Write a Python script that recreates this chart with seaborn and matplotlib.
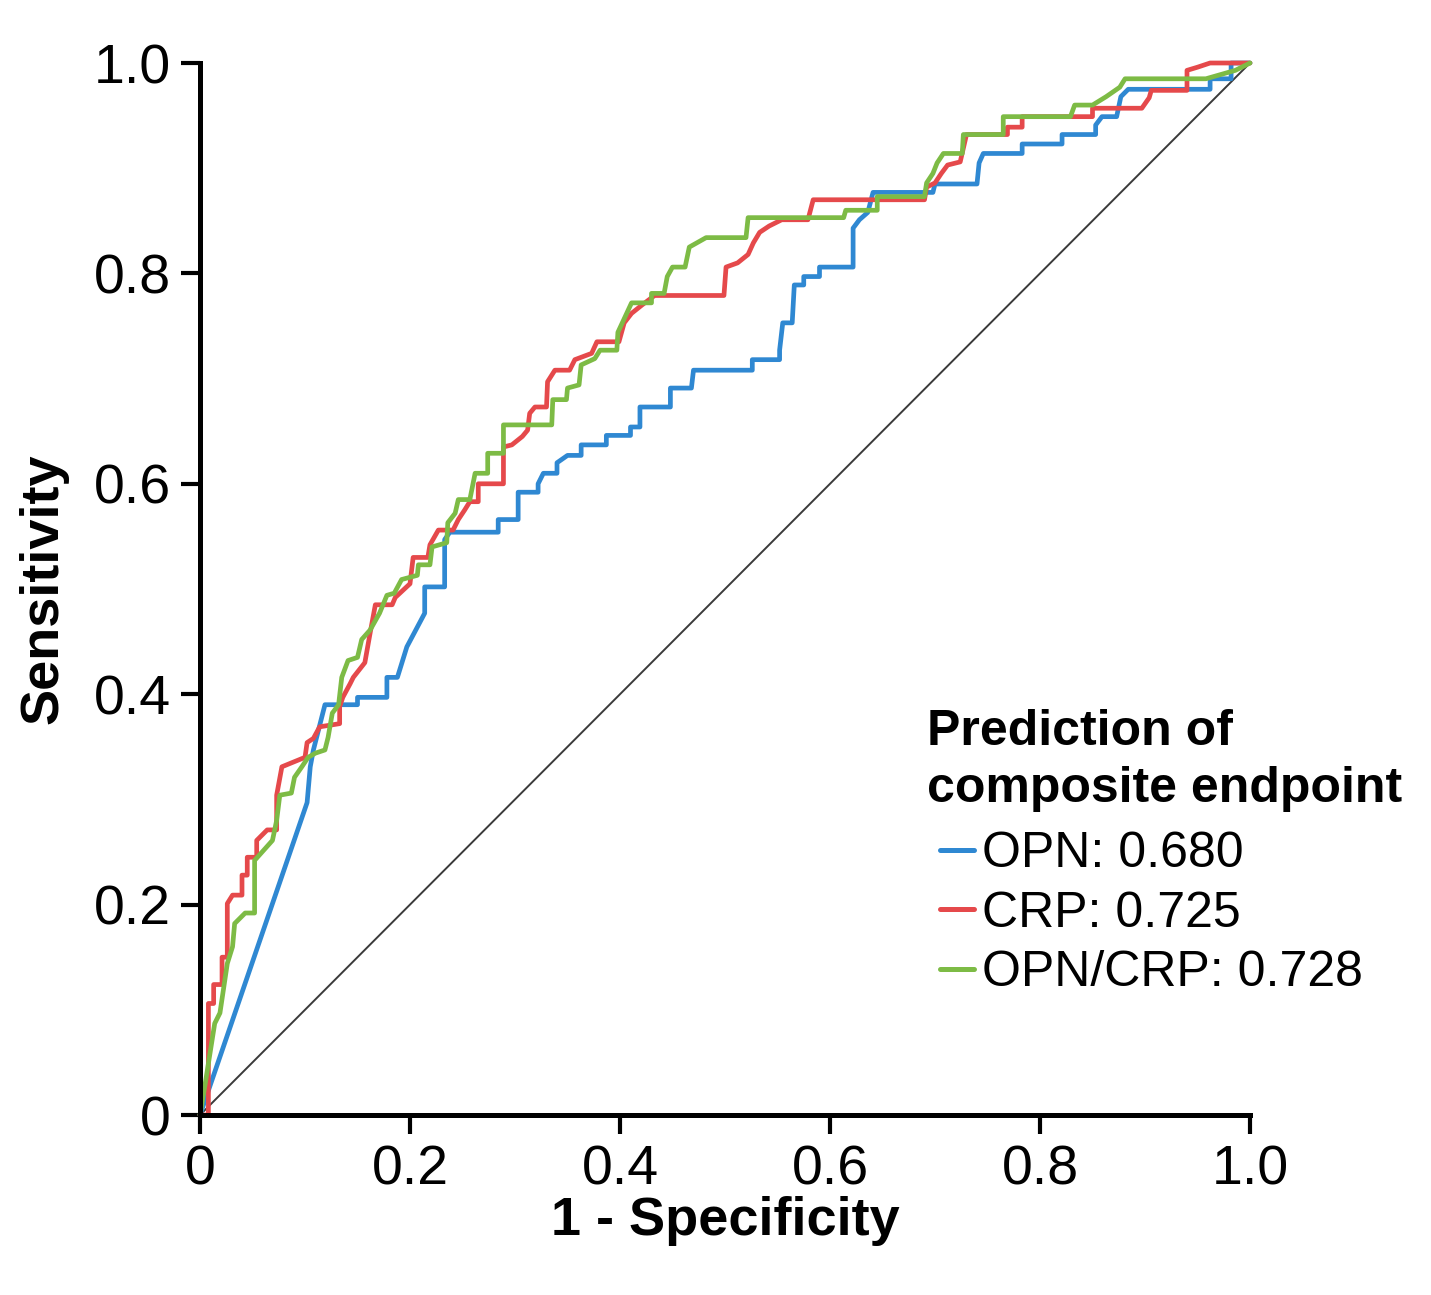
import matplotlib
matplotlib.use("Agg")
import matplotlib.pyplot as plt
from matplotlib.lines import Line2D
from matplotlib.legend_handler import HandlerLine2D
from matplotlib.ticker import FuncFormatter
import seaborn as sns
import pandas as pd
import numpy as np

# ---------------- data ----------------
series_names = ["OPN: 0.680", "CRP: 0.725", "OPN/CRP: 0.728"]
series_colors = ["#2F88D2", "#E5494B", "#7DBB45"]

opn_points = [(0, 0), (0.102, 0.297), (0.105, 0.331), (0.108, 0.347), (0.119, 0.390), (0.150, 0.390),
              (0.150, 0.397), (0.178, 0.397), (0.178, 0.416), (0.188, 0.416), (0.197, 0.445), (0.214, 0.477),
              (0.214, 0.502), (0.233, 0.502), (0.233, 0.547), (0.238, 0.554), (0.284, 0.554), (0.284, 0.566),
              (0.303, 0.566), (0.303, 0.592), (0.322, 0.592), (0.322, 0.600), (0.327, 0.610), (0.340, 0.610),
              (0.340, 0.620), (0.350, 0.627), (0.363, 0.627), (0.363, 0.637), (0.387, 0.637), (0.387, 0.646),
              (0.410, 0.646), (0.410, 0.654), (0.419, 0.654), (0.419, 0.673), (0.448, 0.673), (0.448, 0.691),
              (0.468, 0.691), (0.470, 0.708), (0.526, 0.708), (0.526, 0.718), (0.552, 0.718), (0.552, 0.727),
              (0.555, 0.753), (0.564, 0.753), (0.566, 0.789), (0.575, 0.789), (0.575, 0.797), (0.590, 0.797),
              (0.590, 0.806), (0.622, 0.806), (0.622, 0.843), (0.628, 0.851), (0.636, 0.858), (0.641, 0.877),
              (0.698, 0.877), (0.700, 0.885), (0.740, 0.885), (0.742, 0.905), (0.746, 0.914), (0.783, 0.914),
              (0.783, 0.923), (0.821, 0.923), (0.821, 0.932), (0.853, 0.932), (0.853, 0.941), (0.859, 0.949),
              (0.873, 0.949), (0.877, 0.968), (0.884, 0.975), (0.962, 0.975), (0.962, 0.985), (0.982, 0.985),
              (0.982, 1.0), (1.0, 1.0)]

crp_points = [(0, 0), (0.008, 0.0), (0.008, 0.106), (0.013, 0.106), (0.013, 0.124), (0.021, 0.124),
              (0.021, 0.150), (0.026, 0.150), (0.026, 0.201), (0.031, 0.209), (0.040, 0.209), (0.040, 0.228),
              (0.045, 0.228), (0.045, 0.245), (0.054, 0.245), (0.054, 0.261), (0.064, 0.271), (0.073, 0.271),
              (0.073, 0.304), (0.078, 0.331), (0.100, 0.340), (0.102, 0.354), (0.108, 0.358), (0.114, 0.369),
              (0.133, 0.372), (0.133, 0.388), (0.136, 0.397), (0.143, 0.410), (0.146, 0.416), (0.157, 0.430),
              (0.162, 0.458), (0.167, 0.485), (0.183, 0.485), (0.186, 0.492), (0.200, 0.505), (0.203, 0.530),
              (0.217, 0.530), (0.219, 0.542), (0.227, 0.556), (0.241, 0.556), (0.246, 0.566), (0.252, 0.575),
              (0.257, 0.583), (0.265, 0.583), (0.265, 0.600), (0.289, 0.600), (0.289, 0.635), (0.297, 0.637),
              (0.307, 0.645), (0.312, 0.651), (0.314, 0.667), (0.319, 0.673), (0.330, 0.673), (0.331, 0.697),
              (0.338, 0.708), (0.352, 0.708), (0.357, 0.718), (0.365, 0.721), (0.373, 0.724), (0.378, 0.735),
              (0.399, 0.735), (0.404, 0.753), (0.411, 0.762), (0.421, 0.770), (0.433, 0.779), (0.499, 0.779),
              (0.501, 0.806), (0.512, 0.810), (0.522, 0.818), (0.527, 0.829), (0.533, 0.839), (0.542, 0.845),
              (0.554, 0.851), (0.579, 0.851), (0.584, 0.870), (0.690, 0.870), (0.692, 0.882), (0.700, 0.886),
              (0.706, 0.895), (0.712, 0.903), (0.724, 0.906), (0.730, 0.932), (0.769, 0.932), (0.769, 0.939),
              (0.783, 0.939), (0.783, 0.949), (0.850, 0.949), (0.850, 0.957), (0.897, 0.957), (0.904, 0.967),
              (0.906, 0.974), (0.940, 0.974), (0.940, 0.993), (0.950, 0.996), (0.962, 1.0), (1.0, 1.0)]

opncrp_points = [(0, 0), (0.005, 0.030), (0.014, 0.087), (0.019, 0.097), (0.026, 0.144), (0.031, 0.160),
                 (0.033, 0.182), (0.043, 0.192), (0.052, 0.192), (0.052, 0.242), (0.069, 0.261), (0.073, 0.280),
                 (0.076, 0.304), (0.087, 0.306), (0.090, 0.321), (0.097, 0.331), (0.103, 0.340), (0.110, 0.344),
                 (0.119, 0.347), (0.122, 0.359), (0.126, 0.382), (0.132, 0.390), (0.135, 0.416), (0.141, 0.432),
                 (0.150, 0.435), (0.154, 0.452), (0.162, 0.461), (0.171, 0.477), (0.178, 0.494), (0.185, 0.496),
                 (0.192, 0.509), (0.207, 0.513), (0.208, 0.523), (0.219, 0.523), (0.221, 0.540), (0.235, 0.544),
                 (0.236, 0.563), (0.243, 0.572), (0.246, 0.585), (0.257, 0.585), (0.262, 0.610), (0.274, 0.610),
                 (0.274, 0.629), (0.289, 0.629), (0.289, 0.656), (0.335, 0.656), (0.336, 0.680), (0.349, 0.680),
                 (0.350, 0.691), (0.361, 0.694), (0.363, 0.713), (0.376, 0.719), (0.381, 0.727), (0.397, 0.727),
                 (0.398, 0.744), (0.411, 0.772), (0.430, 0.772), (0.430, 0.781), (0.442, 0.781), (0.445, 0.797),
                 (0.450, 0.806), (0.462, 0.806), (0.466, 0.825), (0.482, 0.834), (0.520, 0.834), (0.522, 0.853),
                 (0.613, 0.853), (0.615, 0.860), (0.645, 0.860), (0.645, 0.873), (0.690, 0.873), (0.692, 0.886),
                 (0.698, 0.895), (0.702, 0.905), (0.708, 0.914), (0.726, 0.914), (0.727, 0.932), (0.765, 0.932),
                 (0.765, 0.949), (0.829, 0.949), (0.833, 0.960), (0.850, 0.960), (0.863, 0.968), (0.876, 0.977),
                 (0.881, 0.985), (0.958, 0.985), (0.986, 0.993), (1.0, 1.0)]

ref_x = [0.0, 1.0]
ref_y = [0.0, 1.0]

tick_values = [0.0, 0.2, 0.4, 0.6, 0.8, 1.0]
x_label = "1 - Specificity"
y_label = "Sensitivity"
legend_title = "Prediction of\ncomposite endpoint"

# ---------------- build table ----------------
frames = []
for name, pts in zip(series_names, [opn_points, crp_points, opncrp_points]):
    d = pd.DataFrame(pts, columns=["x", "y"])
    d["series"] = name
    frames.append(d)
df = pd.concat(frames, ignore_index=True)

# ---------------- plot ----------------
sns.set_theme(style="white")
plt.rcParams["font.family"] = ["Liberation Sans", "DejaVu Sans"]
plt.rcParams["text.color"] = "black"
plt.rcParams["axes.labelcolor"] = "black"
plt.rcParams["xtick.color"] = "black"
plt.rcParams["ytick.color"] = "black"

fig = plt.figure(figsize=(14.31, 12.95), dpi=100)
ax = fig.add_axes([200 / 1431, (1295 - 1115) / 1295, 1050 / 1431, 1052 / 1295])

ax.plot(ref_x, ref_y, color="#3a3a3a", lw=1.4, zorder=1, clip_on=False)

palette = dict(zip(series_names, series_colors))
for name in series_names:
    sub = df[df["series"] == name]
    sns.lineplot(data=sub, x="x", y="y", color=palette[name], sort=False, estimator=None,
                 linewidth=3.4, ax=ax, legend=False, clip_on=False, zorder=2)

ax.set_xlim(0, 1)
ax.set_ylim(0, 1)
ax.set_xticks(tick_values)
ax.set_yticks(tick_values)
fmt = FuncFormatter(lambda v, p: "0" if abs(v) < 1e-9 else f"{v:.1f}")
ax.xaxis.set_major_formatter(fmt)
ax.yaxis.set_major_formatter(fmt)

for side in ["top", "right"]:
    ax.spines[side].set_visible(False)
for side in ["left", "bottom"]:
    ax.spines[side].set_linewidth(3.6)
    ax.spines[side].set_color("black")

ax.tick_params(axis="both", direction="out", length=14, width=3, color="black",
               labelsize=40, pad=7, labelcolor="black")
ax.tick_params(axis="x", bottom=True)
ax.tick_params(axis="y", left=True)

ax.set_xlabel(x_label, fontsize=39, fontweight="bold", labelpad=0, color="black")
ax.set_ylabel(y_label, fontsize=39, fontweight="bold", labelpad=18, color="black")


class IndentLineHandler(HandlerLine2D):
    def get_xdata(self, legend, xdescent, ydescent, width, height, fontsize):
        xd = np.array([-xdescent + 0.28 * width, -xdescent + width])
        return xd, xd


handles = [Line2D([0], [0], color=c, lw=3.6) for c in series_colors]
leg = ax.legend(handles, series_names, loc="upper left", bbox_to_anchor=(0.673, 0.405),
                frameon=False, fontsize=36, title=legend_title,
                title_fontproperties={"weight": "bold", "size": 36},
                handlelength=0.95, handletextpad=0.15, labelspacing=0.27,
                borderaxespad=0.0, alignment="left",
                handler_map={Line2D: IndentLineHandler()})
leg.get_title().set_linespacing(1.3)
leg.get_title().set_color("black")
for t in leg.get_texts():
    t.set_color("black")
leg._legend_box.sep = 14

fig.savefig("out.png", dpi=100)
